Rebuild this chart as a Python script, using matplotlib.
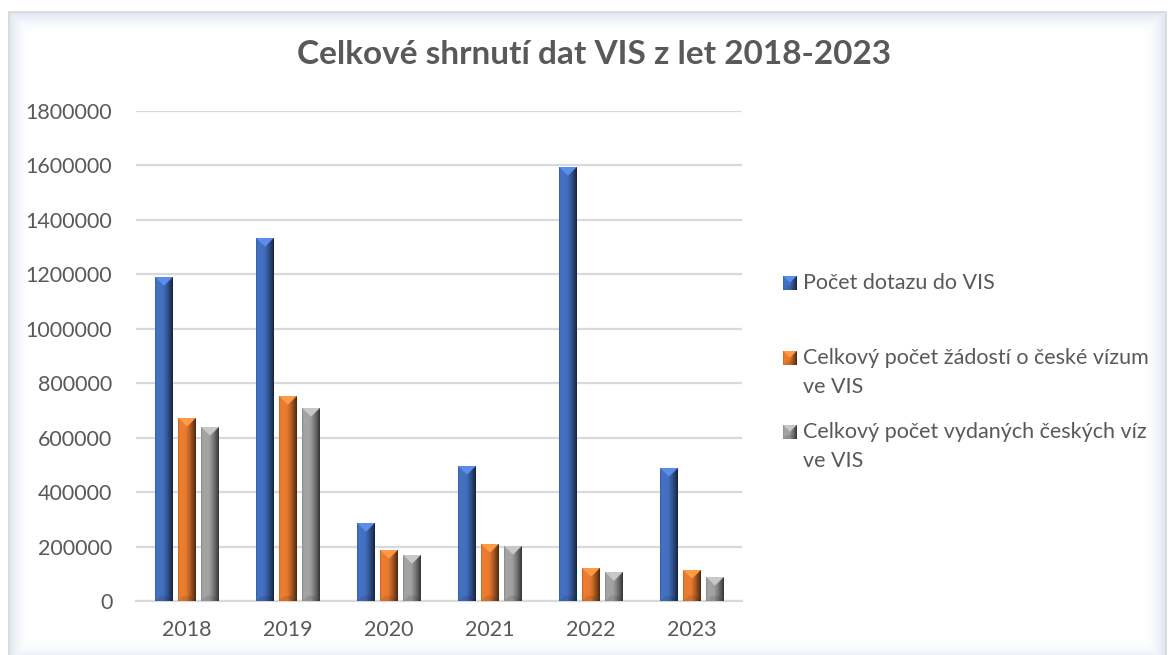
import numpy as np
import matplotlib
matplotlib.use("Agg")
import matplotlib.pyplot as plt

plt.rcParams['font.family'] = ['Lato', 'DejaVu Sans']

years = ["2018", "2019", "2020", "2021", "2022", "2023"]
series_names = ["Počet dotazu do VIS",
                "Celkový počet žádostí o české vízum\nve VIS",
                "Celkový počet vydaných českých víz\nve VIS"]
dotazy = [1187000, 1332000, 284000, 495000, 1592000, 487000]
zadosti = [672000, 750000, 186000, 209000, 119000, 112000]
vydana = [637000, 707000, 166000, 200000, 103000, 88000]
title = "Celkové shrnutí dat VIS z let 2018-2023"

colors = ["#4472C4", "#ED7D31", "#A5A5A5"]
text_color = "#595959"
W, H = 1168, 655

fig = plt.figure(figsize=(W / 100, H / 100), dpi=100)
fig.patch.set_facecolor("white")

# ---- background frame with soft glow ----
bg = fig.add_axes([0, 0, 1, 1], zorder=-10)
yy, xx = np.mgrid[0:H, 0:W].astype(float)
fl, ft, fr, fb = 8, 11, 1166, 662
inside = (xx >= fl) & (xx <= fr) & (yy >= ft) & (yy <= fb)
d = np.minimum.reduce([xx - fl, yy - ft, fr - xx, fb - yy])
g = np.clip(1 - d / 22.0, 0, 1) ** 1.8
glow = np.array([0.86, 0.89, 0.95])
img = np.ones((H, W, 3))
a = (g * inside)[..., None]
img = img * (1 - a) + glow * a
border = inside & (d < 1.5)
img[border] = [0.86, 0.86, 0.86]
bg.imshow(img, extent=(0, W, H, 0), interpolation="nearest")
bg.set_xlim(0, W)
bg.set_ylim(H, 0)
bg.axis("off")


def bevel_image(rgb, wpx, hpx, scale=4):
    c = np.array(matplotlib.colors.to_rgb(rgb))
    cols = max(int(round(wpx * scale)), 2)
    rows = max(int(round(hpx * scale)), 2)
    t = (np.arange(cols) + 0.5) / cols
    f = np.interp(t, [0, 0.1, 0.45, 0.7, 0.9, 1.0],
                  [0.82, 1.0, 0.98, 0.72, 0.45, 0.3])
    im = np.ones((rows, cols, 3)) * c
    im = im * f[None, :, None]
    r = np.arange(rows)[:, None]
    cc = np.arange(cols)[None, :]
    top = (r < cc) & (r < cols - 1 - cc)
    light = np.clip(c * 1.12 + 0.06, 0, 1)
    im[top] = light
    rb = rows - 1 - r
    bot = (rb < cc) & (rb < cols - 1 - cc) & (rb < cols * 0.3)
    im[bot] = im[bot] * 0.9
    return np.clip(im, 0, 1)


# ---- main axes ----
left, right, top_px, bot_px = 136, 742, 111, 601
ax = fig.add_axes([left / W, (H - bot_px) / H, (right - left) / W,
                   (bot_px - top_px) / H])
ax.set_facecolor("none")
ymax = 1800000
ax.set_xlim(-0.5, 5.5)
ax.set_ylim(0, ymax)
ax.set_yticks(np.arange(0, ymax + 1, 200000))
ax.set_yticklabels([str(v) for v in range(0, ymax + 1, 200000)])
ax.grid(axis="y", color="#D9D9D9", linewidth=1.6, zorder=0)
ax.set_axisbelow(True)
for s in ["top", "right", "left"]:
    ax.spines[s].set_visible(False)
ax.spines["bottom"].set_color("#D9D9D9")
ax.spines["bottom"].set_linewidth(1.6)
ax.tick_params(axis="both", length=0, labelsize=15.5, labelcolor=text_color)
ax.tick_params(axis="y", pad=17)
ax.tick_params(axis="x", pad=14)

x = np.arange(len(years))
ax.set_xticks(x)
ax.set_xticklabels(years)
bw = 0.174
step = 0.228
px_per_cat = (right - left) / len(years)
px_per_val = (bot_px - top_px) / ymax
for i, (vals, col) in enumerate(zip([dotazy, zadosti, vydana], colors)):
    pos = x + (i - 1) * step
    bars = ax.bar(pos, vals, width=bw, color=col, zorder=2, linewidth=0)
    for b, v in zip(bars, vals):
        im = bevel_image(col, bw * px_per_cat, v * px_per_val)
        ax.imshow(im, extent=(b.get_x(), b.get_x() + b.get_width(), 0, v),
                  aspect="auto", zorder=3, interpolation="bilinear")
ax.set_xlim(-0.5, 5.5)
ax.set_ylim(0, ymax)

# ---- title ----
bg.text(594, 55, title, ha="center", va="center", fontsize=24,
        fontweight="bold", color=text_color)

# ---- legend ----
leg_y = [283, 358, 432]
for name, col, yc in zip(series_names, colors, leg_y):
    mk = bevel_image(col, 14, 14, scale=2)
    bg.imshow(mk, extent=(783, 797, yc + 7, yc - 7), interpolation="bilinear")
    for k, line in enumerate(name.split("\n")):
        bg.text(803, yc + k * 29, line, ha="left", va="center",
                fontsize=15.5, color=text_color)
bg.set_xlim(0, W)
bg.set_ylim(H, 0)

fig.savefig("out.png", dpi=100)
